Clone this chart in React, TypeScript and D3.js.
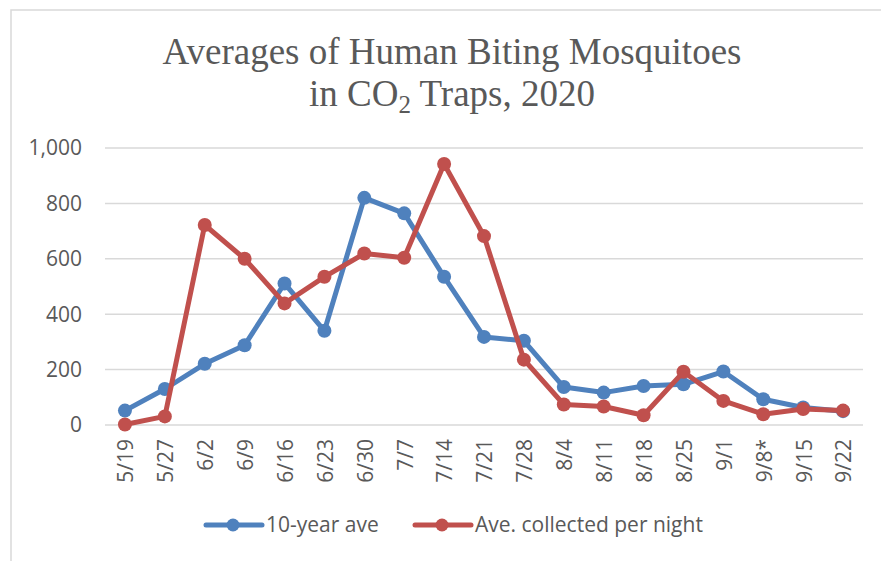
import React from 'react';
import * as d3 from 'd3';

const weeks = ['5/19', '5/27', '6/2', '6/9', '6/16', '6/23', '6/30', '7/7', '7/14', '7/21', '7/28', '8/4', '8/11', '8/18', '8/25', '9/1', '9/8*', '9/15', '9/22'];
const tenYearAve = [52, 130, 221, 288, 511, 340, 820, 764, 535, 318, 304, 137, 117, 141, 147, 193, 93, 63, 50];
const collectedPerNight = [2, 31, 722, 600, 439, 535, 619, 604, 942, 682, 236, 74, 67, 35, 192, 87, 39, 58, 52];
const yTicks = [0, 200, 400, 600, 800, 1000];

const seriesList = [
  { name: '10-year ave', values: tenYearAve, color: '#4f81bd' },
  { name: 'Ave. collected per night', values: collectedPerNight, color: '#c0504d' },
];

const W = 881;
const H = 561;
const textColor = '#595959';
const axisFont = "'Open Sans', sans-serif";
const axisSize = 21;

const App: React.FC = () => {
  const plot = { left: 105, right: 863, top: 148, bottom: 425 };

  const x = d3.scalePoint<string>()
    .domain(weeks)
    .range([plot.left, plot.right])
    .padding(0.5);

  const y = d3.scaleLinear()
    .domain([0, 1000])
    .range([plot.bottom, plot.top]);

  const fmt = d3.format(',');

  const line = d3.line<number>()
    .x((_, i) => x(weeks[i]) as number)
    .y(d => y(d));

  const legendItems = [
    { lineX: 206, textX: 266 },
    { lineX: 415, textX: 475 },
  ];

  return (
    <div style={{ position: 'absolute', left: 0, top: 0 }}>
      <svg width={W} height={H} style={{ display: 'block', background: '#fff' }}>
        {/* chart frame, right and bottom edges fall outside the picture */}
        <rect x={11} y={10} width={W + 20} height={H + 20} fill="#fff" stroke="#d9d9d9" strokeWidth={1.5} />

        <text x={452} y={64} textAnchor="middle" fill={textColor}
          style={{ fontFamily: "'Liberation Serif', 'Times New Roman', serif", fontSize: 37 }}>
          Averages of Human Biting Mosquitoes
        </text>
        <text x={452} y={106} textAnchor="middle" fill={textColor}
          style={{ fontFamily: "'Liberation Serif', 'Times New Roman', serif", fontSize: 37 }}>
          in CO<tspan dy={7} style={{ fontSize: 25 }}>2</tspan><tspan dy={-7}> Traps, 2020</tspan>
        </text>

        {/* gridlines */}
        {yTicks.map(t => (
          <line key={t} x1={plot.left} x2={plot.right} y1={y(t)} y2={y(t)} stroke="#d9d9d9" strokeWidth={1.5} />
        ))}

        {/* y axis labels */}
        {yTicks.map(t => (
          <text key={t} x={82} y={y(t)} dy="0.35em" textAnchor="end" fill={textColor}
            style={{ fontFamily: axisFont, fontSize: axisSize }}>
            {fmt(t)}
          </text>
        ))}

        {/* x axis labels */}
        {weeks.map(w => (
          <text key={w} transform={`translate(${(x(w) as number) + 1},${439}) rotate(-90)`}
            dy="0.35em" textAnchor="end" fill={textColor}
            style={{ fontFamily: axisFont, fontSize: axisSize }}>
            {w}
          </text>
        ))}

        {/* series */}
        {seriesList.map(s => (
          <g key={s.name}>
            <path d={line(s.values) || ''} fill="none" stroke={s.color} strokeWidth={5} strokeLinejoin="round" strokeLinecap="round" />
            {s.values.map((v, i) => (
              <circle key={i} cx={x(weeks[i]) as number} cy={y(v)} r={7} fill={s.color} />
            ))}
          </g>
        ))}

        {/* legend */}
        {seriesList.map((s, i) => {
          const item = legendItems[i];
          return (
            <g key={s.name}>
              <line x1={item.lineX} x2={item.lineX + 56} y1={525} y2={525} stroke={s.color} strokeWidth={5} strokeLinecap="round" />
              <circle cx={item.lineX + 27} cy={525} r={6.5} fill={s.color} />
              <text x={item.textX} y={525} dy="0.35em" fill={textColor}
                style={{ fontFamily: axisFont, fontSize: axisSize }}>
                {s.name}
              </text>
            </g>
          );
        })}
      </svg>
    </div>
  );
};

export default App;
